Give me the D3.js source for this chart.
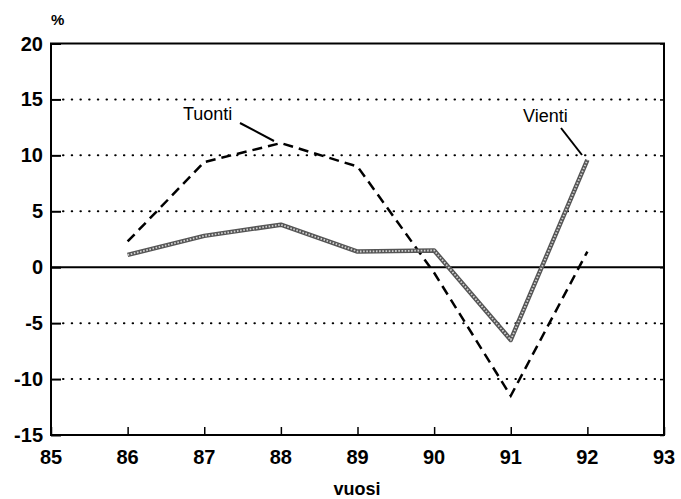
<!DOCTYPE html>
<html>
<head>
<meta charset="utf-8">
<script src="https://cdn.jsdelivr.net/npm/d3@7"></script>
<style>
  html, body { margin: 0; padding: 0; background: #fff; }
  svg { display: block; font-family: "Liberation Sans", Arial, Helvetica, sans-serif; }
</style>
</head>
<body>
<svg id="chart" width="681" height="499"></svg>
<script>
const years = [86, 87, 88, 89, 90, 91, 92];
const tuonti = [2.3, 9.4, 11.1, 9.0, -0.5, -11.5, 1.4];
const vienti = [1.1, 2.8, 3.8, 1.4, 1.5, -6.5, 9.6];
const xTicks = [85, 86, 87, 88, 89, 90, 91, 92, 93];
const yTicks = [-15, -10, -5, 0, 5, 10, 15, 20];
const gridValues = [-10, -5, 5, 10, 15];

const svg = d3.select("#chart");
const L = 51, R = 664, T = 43.5, B = 435;

const x = d3.scaleLinear().domain([85, 93]).range([L, R]);
const y = d3.scaleLinear().domain([-15, 20]).range([B, T]);

// dotted gridlines
svg.append("g").selectAll("line").data(gridValues).join("line")
  .attr("x1", L + 12).attr("x2", R - 2)
  .attr("y1", d => y(d)).attr("y2", d => y(d))
  .attr("stroke", "#000").attr("stroke-width", 2)
  .attr("stroke-linecap", "round")
  .attr("stroke-dasharray", "0.5,8.2");

// zero line
svg.append("line")
  .attr("x1", L).attr("x2", R).attr("y1", y(0)).attr("y2", y(0))
  .attr("stroke", "#000").attr("stroke-width", 2);

// left axis (ticks inward)
const yAxisL = d3.axisRight(y).tickValues(yTicks).tickSize(10).tickFormat("");
svg.append("g").attr("transform", `translate(${L},0)`).call(yAxisL)
  .call(g => g.select(".domain").remove())
  .call(g => g.selectAll("line").attr("stroke-width", 2));

// right axis small ticks inward
const yAxisR = d3.axisLeft(y).tickValues(yTicks).tickSize(4).tickFormat("");
svg.append("g").attr("transform", `translate(${R},0)`).call(yAxisR)
  .call(g => g.select(".domain").remove())
  .call(g => g.selectAll("line").attr("stroke-width", 1.5));

// bottom axis ticks inward
const xAxis = d3.axisTop(x).tickValues(xTicks).tickSize(8).tickFormat("");
svg.append("g").attr("transform", `translate(0,${B})`).call(xAxis)
  .call(g => g.select(".domain").remove())
  .call(g => g.selectAll("line").attr("stroke-width", 1.5));

// frame
svg.append("rect").attr("x", L).attr("y", T).attr("width", R - L).attr("height", B - T)
  .attr("fill", "none").attr("stroke", "#000").attr("stroke-width", 2);

// y tick labels
svg.append("g").selectAll("text").data(yTicks).join("text")
  .attr("x", L - 8).attr("y", d => y(d) + 7)
  .attr("text-anchor", "end")
  .attr("font-size", 20).attr("font-weight", "bold")
  .text(d => d);

// x tick labels
svg.append("g").selectAll("text").data(xTicks).join("text")
  .attr("x", d => x(d)).attr("y", 464)
  .attr("text-anchor", "middle")
  .attr("font-size", 20).attr("font-weight", "bold")
  .text(d => d);

// axis titles
svg.append("text").attr("x", 51).attr("y", 25)
  .attr("font-size", 15).attr("font-weight", "bold").text("%");
svg.append("text").attr("x", 357).attr("y", 495).attr("text-anchor", "middle")
  .attr("font-size", 18).attr("font-weight", "bold").text("vuosi");

const line = d3.line().x((d, i) => x(years[i])).y(d => y(d));

// Tuonti dashed
svg.append("path").datum(tuonti).attr("d", line)
  .attr("fill", "none").attr("stroke", "#000").attr("stroke-width", 2.5)
  .attr("stroke-dasharray", "10,6");

// Vienti textured gray
svg.append("path").datum(vienti).attr("d", line)
  .attr("fill", "none").attr("stroke", "#555").attr("stroke-width", 4.5)
  .attr("stroke-linejoin", "round");
svg.append("path").datum(vienti).attr("d", line)
  .attr("fill", "none").attr("stroke", "#d0d0d0").attr("stroke-width", 1.8)
  .attr("stroke-dasharray", "1.6,1.6");

// labels
svg.append("text").attr("x", 183).attr("y", 120)
  .attr("font-size", 18).text("Tuonti");
svg.append("line").attr("x1", 240).attr("y1", 123).attr("x2", 274).attr("y2", 141)
  .attr("stroke", "#000").attr("stroke-width", 2);
svg.append("text").attr("x", 523).attr("y", 122)
  .attr("font-size", 18).text("Vienti");
svg.append("line").attr("x1", 561).attr("y1", 128).attr("x2", 582).attr("y2", 155)
  .attr("stroke", "#000").attr("stroke-width", 2);
</script>
</body>
</html>
